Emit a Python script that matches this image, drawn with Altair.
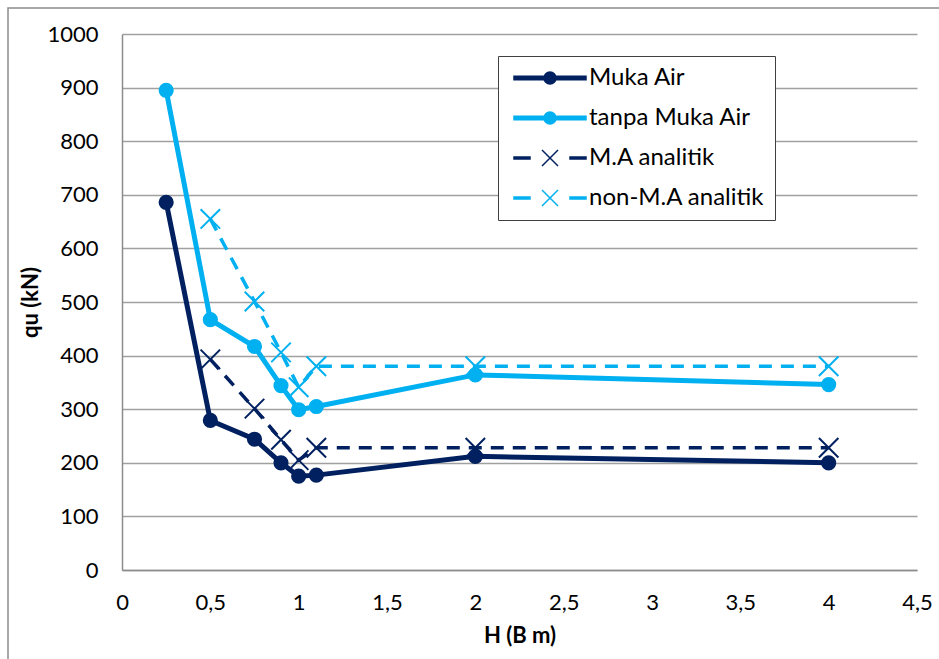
import altair as alt
import pandas as pd

# Bearing capacity qu (kN) against H (in multiples of B)
H_TEST = [0.25, 0.5, 0.75, 0.9, 1.0, 1.1, 2, 4]
MUKA_AIR = [686, 279, 244, 200, 175, 177, 212, 200]
TANPA_MUKA_AIR = [895, 467, 417, 344, 299, 305, 364, 346]

H_ANALITIK = [0.5, 0.75, 0.9, 1.0, 1.1, 2, 4]
MA_ANALITIK = [393, 301, 243, 205, 228, 228, 228]
NON_MA_ANALITIK = [655, 501, 406, 341, 380, 380, 380]

SERIES = ["Muka Air", "tanpa Muka Air", "M.A analitik", "non-M.A analitik"]
COLORS = ["#002060", "#00B0F0", "#002060", "#00B0F0"]

X_TICKS = [0, 0.5, 1, 1.5, 2, 2.5, 3, 3.5, 4, 4.5]
Y_TICKS = list(range(0, 1001, 100))

FONT = "Lato"


def long_table(xs, ys, name):
    return [{"H": x, "qu": y, "seri": name} for x, y in zip(xs, ys)]


solid = pd.DataFrame(
    long_table(H_TEST, MUKA_AIR, SERIES[0]) + long_table(H_TEST, TANPA_MUKA_AIR, SERIES[1])
)
dashed = pd.DataFrame(
    long_table(H_ANALITIK, MA_ANALITIK, SERIES[2])
    + long_table(H_ANALITIK, NON_MA_ANALITIK, SERIES[3])
)

# Legend glyphs: line with a dot, and dash - cross - dash
PATH_SOLID = (
    "M-3.6,-0.175H-0.6V0.175H-3.6Z M0.6,-0.175H3.6V0.175H0.6Z "
    "M-0.6,0A0.6,0.6 0 1,0 0.6,0A0.6,0.6 0 1,0 -0.6,0Z"
)
PATH_DASHED = (
    "M-3.6,-0.1H-2.0V0.1H-3.6Z M2.0,-0.1H3.6V0.1H2.0Z "
    "M-0.8,-0.8L0.8,0.8 M-0.8,0.8L0.8,-0.8"
)
CROSS = "M-1,-1L1,1M-1,1L1,-1"

legend = alt.Legend(
    title=None,
    orient="none",
    legendX=376,
    legendY=22,
    labelFont=FONT,
    labelFontSize=24,
    labelColor="#000000",
    labelLimit=400,
    strokeColor="#404040",
    fillColor="#ffffff",
    padding=10,
    symbolSize=400,
    symbolStrokeWidth=1.5,
    symbolOpacity=1,
    symbolOffset=30,
    labelOffset=27,
    rowPadding=16,
    symbolType=alt.ExprRef(
        f"indexof(datum.value, 'analitik') >= 0 ? '{PATH_DASHED}' : '{PATH_SOLID}'"
    ),
    symbolFillColor=alt.ExprRef("scale('color', datum.value)"),
    symbolStrokeColor=alt.ExprRef("scale('color', datum.value)"),
)

color = alt.Color(
    "seri:N", scale=alt.Scale(domain=SERIES, range=COLORS), legend=legend
)

x_enc = alt.X(
    "H:Q",
    scale=alt.Scale(domain=[0, 4.5], nice=False, zero=False),
    axis=alt.Axis(
        values=X_TICKS,
        labelExpr="replace(toString(datum.value), '.', ',')",
        title="H (B m)",
        grid=False,
        ticks=False,
        labelFlush=False,
        labelOverlap=False,
        labelPadding=22,
        titlePadding=12,
    ),
)
y_enc = alt.Y(
    "qu:Q",
    scale=alt.Scale(domain=[0, 1000], nice=False),
    axis=alt.Axis(
        values=Y_TICKS,
        format="d",
        title="qu (kN)",
        ticks=False,
        labelFlush=False,
        labelPadding=24,
        titlePadding=4,
    ),
)

solid_lines = alt.Chart(solid).mark_line(strokeWidth=5).encode(
    x=x_enc, y=y_enc, color=color, detail="seri:N"
)
solid_points = alt.Chart(solid).mark_point(filled=True, size=230, opacity=1).encode(
    x=x_enc, y=y_enc, color=color
)
dashed_lines = alt.Chart(dashed).mark_line(strokeWidth=3.5, strokeDash=[13, 9]).encode(
    x=x_enc, y=y_enc, color=color, detail="seri:N"
)
dashed_points = alt.Chart(dashed).mark_point(
    shape=CROSS, size=380, strokeWidth=2, filled=False, opacity=1
).encode(x=x_enc, y=y_enc, color=color)

# Thin outer frame around the chart
frame = alt.Chart(pd.DataFrame({"k": [0]})).mark_rect(
    fill=None, stroke="#8c8c8c", strokeWidth=1.5
).encode(
    x=alt.value(-114), x2=alt.value(900), y=alt.value(-26), y2=alt.value(700)
)

chart = (
    alt.layer(frame, solid_lines, dashed_lines, solid_points, dashed_points)
    .properties(
        width=795,
        height=536,
        autosize=alt.AutoSizeParams(type="none"),
        padding={"left": 122, "top": 34, "right": 22, "bottom": 89},
        background="#ffffff",
    )
    .configure_view(stroke=None)
    .configure_axis(
        labelFont=FONT,
        labelFontSize=22,
        labelColor="#000000",
        titleFont=FONT,
        titleFontSize=22,
        titleFontWeight="bold",
        titleColor="#000000",
        domainColor="#8c8c8c",
        domainWidth=1.5,
        gridColor="#a0a0a0",
        gridWidth=1.5,
    )
)

chart.save("out.html", embed_options={"renderer": "svg", "actions": False})
